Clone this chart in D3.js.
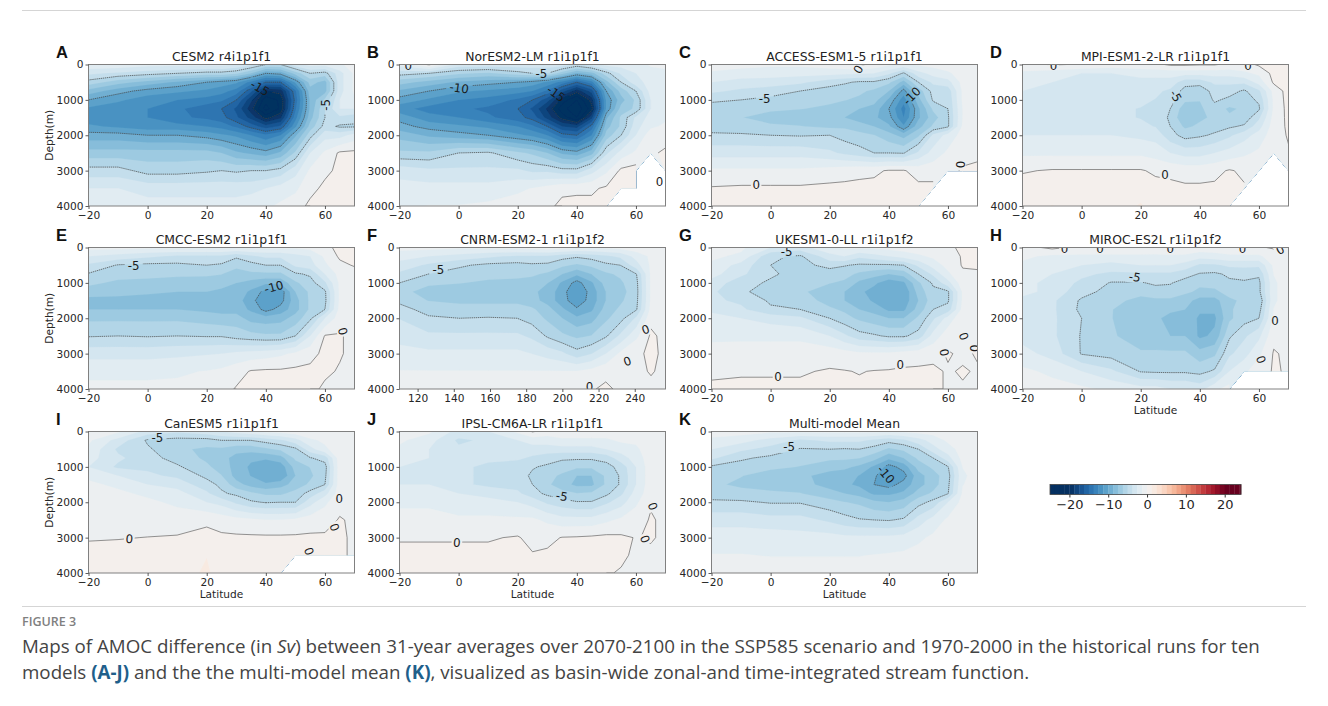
<!DOCTYPE html>
<html><head><meta charset="utf-8">
<script src="https://cdn.jsdelivr.net/npm/d3@7"></script>
<style>
html,body{margin:0;padding:0;background:#fff}
svg{display:block}
</style></head><body>
<svg id="fig" width="1328" height="706"></svg>
<script>
const lats=[-20,-10,0,10,20,25,30,35,40,45,50,55,60,65,70];
const lonsF=[110,126,143,159,175,183,192,200,208,216,224,232,241,249,257];
const depths=[0,250,500,750,1000,1250,1500,1750,2000,2500,3000,3500,4000];
const latTicks=[-20,0,20,40,60];
const lonTicks=[120,140,160,180,200,220,240];
const depthTicks=[0,1000,2000,3000,4000];
const barTicks=[-20,-10,0,10,20];
const lineLevels=[-20,-15,-10,-5,0];
const titles=["CESM2 r4i1p1f1","NorESM2-LM r1i1p1f1","ACCESS-ESM1-5 r1i1p1f1","MPI-ESM1-2-LR r1i1p1f1","CMCC-ESM2 r1i1p1f1","CNRM-ESM2-1 r1i1p1f2","UKESM1-0-LL r1i1p1f2","MIROC-ES2L r1i1p1f2","CanESM5 r1i1p1f1","IPSL-CM6A-LR r1i1p1f1","Multi-model Mean"];
const letters=["A","B","C","D","E","F","G","H","I","J","K"];

const cesm2=[
[-1.5,-1.5,-2,-2,-2,-2,-2.5,-3.5,-5,-5,-3,-2,-2,-1.5,-0.5],
[-3.5,-4,-4.5,-5,-5.5,-5.5,-6,-7.5,-10,-9.5,-7,-5,-5.5,-3,-1],
[-5.5,-7,-8,-9,-10,-10.5,-11,-13,-15,-15,-11,-7,-8,-3,-1],
[-8,-9.5,-10.5,-11,-11.5,-12,-13,-16,-20,-19.5,-14,-8,-8,-3,-1],
[-10,-11,-12,-12.5,-13,-13.5,-15,-18.5,-22,-21,-14.5,-8.5,-6,-2.5,-1.5],
[-11.5,-12,-12.5,-13.5,-14.5,-15,-16.5,-19.5,-23,-21,-14,-8.5,-5,-2.5,-2.5],
[-12,-12,-12.5,-13.5,-14,-14.5,-16,-18,-20.5,-19,-13,-8,-5,-4,-4.5],
[-11,-11.5,-12,-12,-12.5,-13,-14,-15.5,-17,-16,-11.5,-7,-4.5,-5.2,-5.2],
[-9.5,-9.5,-10,-10,-10.5,-11,-11.5,-12.5,-13.5,-12.5,-9,-5.5,-3,-3,-2],
[-7,-7,-7,-7,-7,-7.5,-8.5,-9,-9.5,-8.5,-6,-2.5,-1,0.2,0.3],
[-4.5,-4.5,-5.5,-5.5,-5.2,-5,-5.2,-5,-5,-4.5,-3,-1,-0.3,0.3,0.3],
[-2.5,-2.5,-3,-3,-3,-3,-3,-3,-2.5,-2,-1.5,-0.4,0.3,0.3,0.3],
[-1.5,-1.5,-2,-2,-2,-2,-2,-1.5,-1.5,-1,-0.6,0.3,0.3,0.3,0.3]];
const noresm=[
[-2,0.2,-3,-3,-3,-3,-3,-3,-4,-3,-2,-2,-2,-1,-1],
[-4.5,-5,-6,-6.5,-5.5,-5,-5,-7,-9,-8,-5.5,-3.5,-2.5,-2,-1.5],
[-7,-8,-9,-9.5,-10,-10.5,-11.5,-13,-15,-13,-8,-5,-3,-2,-1.5],
[-9,-10,-11,-11.5,-12,-12.5,-14,-17,-19.5,-17,-10,-7,-5,-2,-1.5],
[-10.5,-11.5,-12.5,-13,-14,-15,-17,-20.5,-22.5,-19.5,-11,-8,-6,-2.5,-1.5],
[-12,-13,-13.5,-14,-15,-16.5,-19,-22,-23.5,-20.5,-11,-7,-6,-2.5,-1.5],
[-10.5,-12,-12.5,-13.5,-14.5,-15.5,-18,-20.5,-22.5,-18,-9,-6,-3.5,-2,-1.5],
[-9.5,-10.5,-11,-11.5,-12.5,-13.5,-15,-17.5,-18,-14.5,-8,-6,-3,-1.5,-1],
[-8,-9,-9.5,-10,-11,-11.5,-12.5,-14.5,-15,-12.5,-7,-5,-2.5,-0.5,-0.5],
[-6,-6,-5,-4.8,-6,-6.5,-7.5,-9,-9.5,-8,-4,-2,-1,-0.2,0.2],
[-3,-3.5,-3.5,-3.5,-3.5,-4,-4,-4.5,-4.5,-3,-1.5,0.3,0.5,null,0.3],
[-2,-2,-2,-2,-1.5,-1.2,-0.8,-0.2,-0.2,-0.2,0.2,0.4,0.4,null,null],
[-1.5,-1.2,-1.2,-1,-0.7,-0.5,-0.2,0.2,0.3,0.3,0.4,null,null,null,null]];
const access=[
[-0.5,-0.8,-1,-1,-0.6,-0.3,0.2,-0.3,-1,-1.5,-1,-0.8,-0.5,-0.3,-0.3],
[-1.5,-1.8,-2,-2,-2,-2.2,-2.3,-2.5,-3.5,-5.2,-3,-2,-1.5,-0.5,-0.3],
[-2.5,-3,-3,-3.5,-4.5,-4.8,-5.2,-5.2,-6,-8,-5,-3.5,-3,-0.8,-0.5],
[-3.5,-4,-4.5,-5,-5.5,-5.8,-6,-6.5,-7.5,-10.5,-7,-4.5,-4.5,-1,-0.5],
[-4.8,-5,-5.3,-5.6,-6,-6.2,-6.5,-7,-9,-12,-8,-4.8,-4.8,-1,-0.5],
[-5.5,-6,-6,-6.2,-6.5,-7,-7.5,-8,-10,-13,-9,-6,-5,-1.2,-0.5],
[-6,-6.2,-6.8,-7,-7,-7.5,-8,-8.5,-9.5,-12.5,-9,-6.8,-5.2,-1.2,-0.5],
[-5.5,-5.8,-6,-6.2,-6.5,-6.5,-7,-7.5,-8.5,-11,-8,-6,-5.2,-1,-0.5],
[-4.8,-4.8,-5,-5.1,-5,-5.5,-5.8,-6.2,-7,-8,-6.5,-3.5,-2,-0.8,-0.3],
[-3,-3,-3,-3,-3.5,-4,-4.5,-5,-5,-5.1,-3.5,-2,-1,-0.3,-0.1],
[-1,-1,-1,-1,-0.7,-0.5,-0.3,-0.2,0.1,0.1,-0.5,-0.5,-0.3,0.1,0.1],
[0.1,0.2,0.2,0.2,0.3,0.3,0.3,0.3,0.3,0.3,0.3,0.3,null,null,null],
[0.3,0.3,0.3,0.3,0.3,0.3,0.3,0.3,0.3,0.3,0.3,null,null,null,null]];
const mpi=[
[-0.5,0.1,-0.1,-0.5,-0.5,-0.3,0.2,0.2,0.1,0.1,-0.3,-0.5,0.2,0.6,0.8],
[-1.5,-2,-2.5,-2.5,-2,-2,-2,-2,-2,-2,-2,-1.5,-1,0.4,0.8],
[-2,-2.5,-3,-3.5,-3,-3,-3,-4.5,-4.5,-3.5,-3.5,-3.5,-2,0.2,0.8],
[-2.5,-2.8,-3,-3.5,-3,-3.5,-4,-5.5,-5.8,-4.5,-4.5,-5.2,-4,-0.8,0.5],
[-3,-3,-3,-3.5,-3.5,-3.8,-4.5,-6,-6.2,-4.8,-5.3,-5.5,-4.8,-1,0.5],
[-3.5,-3.5,-3.5,-3.5,-3.8,-4,-5,-7,-6.5,-5.5,-6.5,-6,-5.2,-1,0.4],
[-3.5,-3.5,-3.5,-3.5,-3.8,-4.2,-5.2,-7.5,-6.5,-6,-6,-5.8,-4,-0.8,0.3],
[-3,-3,-3,-3.5,-3.5,-3.8,-5,-6.5,-6,-5.5,-5.2,-4.8,-3,-0.6,0.2],
[-2.5,-2.5,-2.5,-2.5,-2.8,-3,-4.5,-5.5,-5.2,-4.8,-4,-3,-2,-0.5,0.1],
[-1.5,-1.5,-1.5,-1.5,-1.5,-1.8,-2.5,-3,-3,-2.5,-2,-1.5,-1,-0.4,-0.1],
[-0.1,0.1,0.1,0.1,0.1,-0.2,-0.3,-0.5,-0.5,-0.3,0.1,-0.2,-0.3,null,-0.4],
[0.5,0.4,0.4,0.4,0.5,0.4,0.3,0.2,0.2,0.2,0.3,0.1,null,null,null],
[0.4,1.3,0.4,0.4,1.4,0.6,0.4,0.3,0.3,0.3,0.3,null,null,null,null]];
const cmcc=[
[-0.8,-0.8,-1,-1,-1,-1,-1,-1,-1,-1,-1,-0.8,-0.3,0.3,0.3],
[-2.5,-3,-3.5,-4,-4,-4,-4.8,-4,-3.5,-3.5,-3,-2.5,-1,0.2,0.2],
[-4,-5.1,-5.3,-5.3,-5,-5.2,-5.8,-5.5,-5,-5,-3.5,-3,-1.5,-0.3,0.1],
[-5.1,-5.8,-6,-6,-6,-6.2,-7,-6.5,-6.5,-6.5,-5.2,-4.8,-2.5,-0.8,-0.5],
[-6,-6.5,-6.5,-6.8,-7,-7,-7.5,-8,-8.5,-8.5,-6.5,-5.5,-4,-1,-0.5],
[-6.8,-7,-7.2,-7.5,-7.5,-7.8,-8,-9,-10.5,-10.8,-7.5,-6,-5.2,-1,-0.5],
[-8,-8,-8.2,-8.2,-8.2,-8.2,-8.2,-9.5,-11.2,-10.5,-8,-6,-5.3,-1,-0.5],
[-7.5,-7.5,-7.5,-7.5,-7.8,-8,-8,-9,-10.5,-9.5,-8,-6,-5,-0.8,-0.5],
[-6.5,-6.5,-6.5,-6.5,-6.8,-7,-7,-8,-8.2,-8,-7,-5.3,-2.5,-0.6,-0.4],
[-5.1,-5,-5.1,-5,-5.1,-5.1,-5.5,-5.8,-6,-6,-5,-2.5,0.1,0.1,-0.3],
[-3,-3,-3,-2.8,-2.6,-2.5,-2.2,-2,-1.8,-1.5,-1,-0.4,0.3,0.1,-0.3],
[-1.5,-1.5,-1.5,-1.4,-1.2,-1,-0.5,0.1,0.2,0.2,0.3,0.3,0.2,-0.1,-0.3],
[-1,-1,-1,-1,-0.8,-0.5,0.1,0.3,0.3,0.3,0.3,0.3,-0.2,-0.3,-0.3]];
const cnrm=[
[-0.8,-0.8,-1,-1,-0.8,-0.7,-0.5,-0.7,-1,-1,-1,-0.8,-0.5,-0.4,-0.4],
[-2,-2.5,-3,-3.5,-4,-4,-4,-4.5,-4.8,-4.5,-4,-3.5,-2,-1,-0.5],
[-3,-4,-4.8,-5.3,-5.4,-5.2,-5.3,-6,-6.5,-6,-5.3,-5,-3,-1,-0.5],
[-4,-5,-5.5,-5.8,-6,-6,-6.5,-7.5,-8.5,-7.5,-6.5,-6,-5,-1,-0.5],
[-5,-6,-6.2,-6.5,-6.5,-6.8,-7.5,-9,-10.5,-9,-7,-6.5,-5.3,-1,-0.5],
[-5.8,-6.8,-7,-7,-7,-7.2,-8,-9.5,-11.2,-9.5,-7.5,-6.8,-5.4,-1,-0.5],
[-5.3,-6.3,-6.5,-6.5,-6.5,-7,-8,-9.5,-10.8,-9.5,-7.5,-6.5,-5.3,-1,-0.5],
[-4.5,-5.5,-5.8,-5.8,-5.8,-6,-7,-8.5,-9.8,-9,-7,-6,-5.1,-0.8,-0.4],
[-3.8,-4.8,-5,-4.9,-5,-5.5,-6.5,-7.5,-8.5,-8,-6.5,-5.5,-3.5,-0.3,-0.3],
[-3,-3.5,-3.5,-3.5,-3.5,-4,-5.2,-6,-6.5,-6.2,-5.2,-3.5,-1.5,0.2,-0.3],
[-2,-2.2,-2.2,-2.2,-2.2,-2.5,-3,-3.5,-4.5,-3.8,-2.5,-1,-0.2,0.2,-0.2],
[-1.2,-1.2,-1.2,-1.2,-1.2,-1.2,-1.2,-1.2,-1.2,-0.8,-0.3,-0.1,-0.3,0.1,-0.3],
[-0.8,-0.8,-0.8,-0.8,-0.8,-0.8,-0.8,-0.8,-0.6,-0.1,0.2,-0.2,-0.3,-0.3,-0.3]];
const ukesm=[
[-0.5,-1,-2.5,-3,-1.5,-1,-1,-1,-0.8,-0.6,-0.5,-0.4,-0.2,0.2,0.2],
[-1,-1.5,-4.8,-5.2,-3,-2.5,-3.5,-3,-2.5,-2,-1.5,-1,-0.5,0.1,0.2],
[-1.5,-3,-5,-5.5,-4.5,-4.9,-5.2,-5.2,-5.2,-5,-3.5,-2,-0.8,0.1,0.1],
[-2,-3.5,-4.8,-5.5,-5.8,-5.8,-6.5,-7,-7.5,-7,-5,-3.5,-1.5,-0.2,-0.1],
[-3,-4.5,-5.2,-5.8,-6.2,-6.5,-7.8,-8.5,-9.5,-9,-6.5,-4.8,-3,-0.5,-0.5],
[-3.5,-4.8,-5.5,-6,-7,-7.5,-8.5,-9.2,-9.5,-9.8,-7,-5.3,-5.2,-1,-0.5],
[-3.5,-4,-5.2,-5.5,-6.8,-7.5,-8,-9,-9.5,-9.5,-7.5,-5.5,-5.2,-1,-0.5],
[-2.8,-3.5,-4.8,-5,-6,-6.5,-7.5,-8,-9,-9,-7,-5,-4.5,-0.8,-0.5],
[-2,-2.5,-3,-3.5,-5,-5.8,-6.5,-7,-7.5,-7.5,-6,-4,-2,-0.3,-0.2],
[-1.5,-1.5,-1.5,-1.5,-2.5,-3.5,-4.5,-4.8,-5.2,-5.2,-4.5,-2,-0.5,-0.2,-0.1],
[-0.8,-0.7,-0.7,-0.7,-0.5,-0.7,-1,-1,-1,-0.7,-0.5,-0.3,0.1,-0.2,0.1],
[-0.2,-0.1,-0.1,-0.1,0.1,0.05,-0.05,0.05,0.1,0.2,0.2,0.2,-0.1,0.1,-0.1],
[0.2,0.2,0.2,0.2,0.2,0.2,0.2,0.2,0.2,0.2,0.2,0.2,-0.1,-0.1,-0.1]];
const miroc=[
[-0.5,0.3,-0.3,-0.3,-0.3,-0.5,0.2,-0.3,-0.5,-0.4,-0.3,-0.2,-0.1,0.1,-0.2],
[-1,-1.5,-1.5,-1.5,-1.5,-1.5,-1.5,-1.5,-2,-1.8,-1.5,-1.5,-1.5,-0.5,-0.3],
[-1.5,-2,-2.5,-3,-2.5,-2.5,-2.5,-3,-4,-4,-3.5,-3.5,-3.5,-1,-0.5],
[-2,-2.5,-3.5,-4,-4,-4,-4,-4.5,-5.1,-5.2,-4.8,-4.5,-4.8,-1.2,-0.5],
[-2,-3,-4,-5.1,-5.1,-4.8,-4.9,-5.5,-6,-5.8,-5.2,-5.2,-5.3,-1.5,-0.5],
[-2,-3,-4.5,-5.5,-6,-5.5,-5.5,-6,-6.5,-6.5,-5.8,-5.5,-5.3,-1.5,-0.5],
[-3,-3.5,-5.2,-6,-6.5,-6.5,-6.5,-7,-8,-8,-6.5,-6,-6,-1.5,-0.5],
[-3.5,-3.5,-5.3,-6.2,-7,-7,-7.2,-7.5,-8.5,-8.5,-6.5,-5.5,-5.5,-1.2,-0.3],
[-3.5,-3.5,-5,-6.2,-7.2,-7.2,-8,-7.8,-9,-9,-6.5,-5.5,-5,-1,-0.3],
[-3,-3.5,-5.1,-6,-7.2,-7.2,-7.5,-7.5,-9,-8.5,-5.2,-4,-2.8,-0.3,-0.2],
[-2,-3,-5.1,-5.5,-6,-6,-6,-6,-7,-6.5,-4,-3,-1.5,0.1,-0.2],
[-1,-1.5,-2.5,-3.5,-5.1,-5.2,-5.2,-5.2,-5.4,-4.8,-2.5,-1.5,-0.5,0.1,-0.1],
[-0.5,-0.8,-1,-1.5,-2,-2,-2.5,-2.5,-3,-1.5,-0.8,null,null,null,null]];
const canesm=[
[-0.5,-1,-3,-3.5,-3,-2.5,-2,-1.5,-1,-0.8,-0.5,-0.3,-0.2,-0.2,-0.2],
[-1,-3,-5.2,-5.5,-5.5,-5,-5,-5,-4.5,-4,-3,-1.5,-1,-0.3,-0.2],
[-1.5,-4,-4.8,-6,-6.5,-6.5,-7,-7,-6.5,-6,-5.3,-3,-1.5,-0.5,-0.3],
[-2,-3.5,-4.5,-5.5,-6.5,-7,-8,-8.5,-8.5,-8,-6,-5.1,-4.5,-0.5,-0.3],
[-2.5,-4,-4,-4.8,-6,-6.8,-8,-9,-10,-9.5,-7,-6.2,-5.5,-0.5,-0.3],
[-1.5,-2.5,-3.5,-4,-5.3,-6.2,-8,-8.8,-10,-9.8,-7.5,-6.5,-5.3,-0.5,-0.3],
[-1,-1.5,-2.5,-3,-4.5,-5.3,-7,-8,-8.5,-8,-7,-6,-5,-0.5,-0.3],
[-1,-1,-1.5,-2,-3.5,-4.8,-5.3,-6,-6.5,-6.5,-5.8,-4.5,-3,-0.5,-0.3],
[-0.8,-0.8,-1,-1.5,-2.5,-3,-4,-4.8,-5.1,-5,-5,-3,-1.5,-0.4,-0.3],
[-0.4,-0.4,-0.5,-0.6,-0.2,-0.5,-0.8,-1,-1.2,-1.2,-1,-0.6,-0.5,0.1,-0.2],
[-0.1,-0.05,0.02,0.1,0.3,0.2,0.2,0.2,0.2,0.2,0.2,0.2,0.2,0.2,-0.2],
[0.4,0.4,0.4,0.4,1.2,0.4,0.4,0.4,0.4,0.4,0.4,0.1,0.2,0.2,-0.2],
[0.5,0.5,0.5,0.5,1.5,0.5,0.5,0.5,0.5,0.3,null,null,null,null,null]];
const ipsl=[
[-0.5,-1,-3,-2.5,-1,0.1,-0.5,-0.5,-0.5,-0.5,-0.5,-0.5,-0.3,-0.2,-0.2],
[-1,-2,-4,-3.5,-2.5,-2,-2,-1.5,-1.5,-1.5,-1.5,-1,-1,-0.3,-0.3],
[-1.5,-2.5,-3.5,-3.5,-3,-3,-3,-3,-3,-3,-2.5,-2,-1.5,-0.5,-0.3],
[-2,-2.5,-3,-3.5,-3.5,-4,-4.5,-4.8,-4.8,-4.8,-4.5,-3,-2,-0.5,-0.3],
[-2.5,-3,-3.5,-4,-4.5,-4.9,-5.2,-5.6,-6,-6,-5.5,-4.5,-2.5,-0.5,-0.3],
[-3,-3,-3.5,-4,-4.5,-5.2,-5.8,-6.5,-7.5,-7.5,-6,-4.8,-2.5,-0.5,-0.3],
[-2.5,-2.5,-3.5,-4,-4.2,-5,-6,-7,-7.8,-7.8,-6,-4.8,-2.5,-0.5,-0.3],
[-2,-2,-2.5,-3,-3.5,-4.5,-5.3,-5.8,-6.2,-6,-5.3,-4,-2,-0.5,-0.3],
[-1.5,-1.5,-2,-2,-2.5,-3,-4,-4.5,-4.9,-4.9,-4,-3,-1.5,-0.1,-0.3],
[-0.8,-0.8,-1,-1,-1,-1,-1.5,-2,-2,-2,-1.5,-1,-0.5,0.1,-0.2],
[-0.1,-0.1,-0.1,-0.1,0.1,-0.4,-0.3,0.05,0.1,0.2,0.3,0.2,-0.05,0.1,-0.2],
[0.3,0.3,0.3,0.3,0.5,0.1,0.2,0.3,0.3,0.3,0.3,0.2,-0.2,-0.2,-0.3],
[0.4,0.4,0.4,0.4,1.3,0.4,0.4,0.4,0.4,0.4,0.1,-0.1,-0.3,-0.3,-0.3]];
const mmm=[
[-0.7,-0.7,-1,-1,-1,-1,-1,-1,-1.2,-1,-0.8,-0.7,-0.5,-0.5,-0.5],
[-1.5,-2,-3,-4,-3.5,-3.5,-3.5,-4,-4.5,-4,-3,-2,-1,-0.6,-0.5],
[-2.5,-3.5,-4.2,-5.1,-5,-5.1,-5,-5.5,-6.5,-6,-5,-3,-1.8,-0.7,-0.5],
[-3.5,-4.8,-5.3,-5.8,-6,-6,-6.2,-7,-8.5,-7.5,-6,-5,-3,-0.8,-0.5],
[-5.2,-5.5,-6,-6.3,-7,-7.2,-7.8,-9,-10.5,-9.5,-7,-6,-5.1,-1.2,-0.7],
[-5.8,-6.2,-6.8,-7.2,-8,-8.2,-8.8,-9.8,-11,-10.5,-8,-6.8,-5.5,-1.5,-0.7],
[-6,-6.5,-6.8,-7,-8,-8.5,-9,-10,-10.5,-9.5,-8,-6.8,-5.3,-1.3,-0.7],
[-5.5,-5.8,-6,-6.2,-7,-7.5,-8,-9,-9,-8.5,-7,-6,-5.1,-1,-0.7],
[-4.8,-4.8,-5.1,-5.1,-5.8,-6.2,-6.5,-7.2,-7.5,-7,-5.5,-4.6,-2.5,-0.8,-0.7],
[-3,-3,-3.3,-3.3,-4,-4.5,-4.9,-5,-5.1,-4.8,-3.2,-2,-1,-0.4,-0.4],
[-1.8,-1.8,-1.8,-2,-2,-2.2,-2.2,-2.2,-2.2,-2,-1.5,-1,-0.6,-0.3,-0.3],
[-1.2,-1.2,-1.3,-1.3,-1.3,-1.3,-1.3,-1.2,-1.1,-1,-0.8,-0.5,-0.4,-0.3,-0.3],
[-0.6,-0.6,-0.6,-0.6,-0.6,-0.6,-0.6,-0.6,-0.6,-0.6,-0.6,-0.5,-0.4,-0.3,-0.3]];
const panelGrids=[cesm2,noresm,access,mpi,cmcc,cnrm,ukesm,miroc,canesm,ipsl,mmm];

// inline contour labels: [x value, depth, text, angle]
const contourLabels=[
[[38,670,"-15",30],[60.3,1140,"-5",-90]],
[[0.2,670,"-10",8],[28,260,"-5",0],[32.9,830,"-15",35],[68,3320,"0",0],[-17,50,"0",0]],
[[-2,970,"-5",0],[47.8,890,"-10",-45],[-4.9,3415,"0",0],[29.7,140,"0",-60],[64,2830,"0",90]],
[[31.8,890,"-5",60],[28.2,3130,"0",0],[-9.5,40,"0",0],[56.3,30,"0",0]],
[[-4.7,536,"-5",0],[42.7,1120,"-10",-15],[66,2370,"0",75]],
[[131.5,650,"-5",0],[246,2325,"0",-20],[236,3220,"0",-20],[215,3940,"0",0]],
[[5.4,130,"-5",0],[2.5,3660,"0",0],[43.9,3330,"0",0],[65.3,2510,"0",70],[58.7,2965,"0",80],[68.9,2850,"0",90]],
[[18,840,"-5",10],[65.4,2070,"0",0],[60.6,3170,"0",70],[-5.8,30,"0",0],[6.2,30,"0",0],[30,30,"0",0],[54.4,30,"0",0],[67.2,70,"0",-30]],
[[3.3,190,"-5",0],[-6.2,3040,"0",5],[64.8,1910,"0",0],[63.2,2710,"0",70],[54.5,3390,"0",70]],
[[34.9,1835,"-5",10],[-0.6,3150,"0",5],[65.6,2120,"0",70],[63,3040,"0",70]],
[[6.3,440,"-5",0],[39,1220,"-10",50]]
];

const captionA="Maps of AMOC difference (in ", captionSv="Sv", captionB=") between 31-year averages over 2070-2100 in the SSP585 scenario and 1970-2000 in the historical runs for ten";
const captionC="models ", captionAJ="(A-J)", captionD=" and the the multi-model mean ", captionK="(K)", captionE=", visualized as basin-wide zonal-and time-integrated stream function.";

const panelLefts=[88.5,399.5,711.5,1022.5];
const panelTops=[64.5,247.5,431.5];
const PW=266, PH=141.5;

const svg=d3.select("#fig");
const defs=svg.append("defs");
defs.append("filter").attr("id","soft").attr("x","-5%").attr("y","-5%").attr("width","110%").attr("height","110%")
  .append("feGaussianBlur").attr("stdDeviation",0.55);

const levelStep=1.25;
const levels=d3.range(-25,25+1e-6,levelStep);
const colorOf=v=>d3.interpolateRdBu(1-Math.max(0,Math.min(1,(v+20)/40)));
const bandColor=t=>colorOf(t+levelStep*(t<0?0.25:0.3));

panelGrids.forEach((grid,k)=>{
  const row=Math.floor(k/4);
  const c=k<8?k%4:k-8, r=row;
  const x0=panelLefts[c], y0=panelTops[r];
  const isF=k===5;
  const cols=isF?lonsF:lats;
  const xDomain=isF?[110,257]:[-20,70];
  const x=d3.scaleLinear().domain(xDomain).range([x0,x0+PW]);
  const y=d3.scaleLinear().domain([0,4000]).range([y0,y0+PH]);
  const nx=cols.length, ny=depths.length;
  const xi=d3.scaleLinear().domain(d3.range(nx)).range(cols).clamp(true);
  const yi=d3.scaleLinear().domain(d3.range(ny)).range(depths).clamp(true);
  const flat=grid.flat().map(v=>v===null?NaN:v);
  const gen=d3.contours().size([nx,ny]).smooth(true);
  const px=p=>[x(xi(p[0]-0.5)),y(yi(p[1]-0.5))];

  const clipId="clip"+k;
  defs.append("clipPath").attr("id",clipId).append("rect").attr("x",x0).attr("y",y0).attr("width",PW).attr("height",PH);

  const g=svg.append("g");
  const clipped=g.append("g").attr("clip-path",`url(#${clipId})`);
  const fills=clipped.append("g").attr("filter","url(#soft)");
  levels.slice(0,-1).forEach(t=>{
    const cc=gen.contour(flat,t);
    const dStr=cc.coordinates.map(poly=>poly.map(ring=>"M"+ring.map(p=>px(p).map(n=>n.toFixed(2)).join(",")).join("L")+"Z").join("")).join("");
    if(dStr) fills.append("path").attr("d",dStr).attr("fill-rule","evenodd")
      .attr("fill",bandColor(t)).attr("stroke",bandColor(t)).attr("stroke-width",0.2);
  });

  // contour lines, with gaps where labels sit
  const labs=contourLabels[k];
  let holes=`M${x0},${y0}H${x0+PW}V${y0+PH}H${x0}Z`;
  labs.forEach(l=>{
    const w=l[2].length*3.8+1.5,h=6,a=l[3]*Math.PI/180,cx=x(l[0]),cy=y(l[1]);
    const pts=[[-w,-h],[w,-h],[w,h],[-w,h]].map(([u,v])=>[cx+u*Math.cos(a)-v*Math.sin(a),cy+u*Math.sin(a)+v*Math.cos(a)]);
    holes+="M"+pts.map(p=>p.join(",")).join("L")+"Z";
  });
  const gapId="gap"+k;
  defs.append("clipPath").attr("id",gapId).append("path").attr("d",holes).attr("clip-rule","evenodd");
  const lines=clipped.append("g").attr("clip-path",`url(#${gapId})`);
  const onEdge=p=>p[0]<=0||p[0]>=nx||p[1]<=0||p[1]>=ny;
  const hasNull=p=>{
    const gx=p[0]-0.5,gy=p[1]-0.5;
    for(let i=Math.ceil(gx-1.01);i<=Math.floor(gx+1.01);i++)for(let j=Math.ceil(gy-1.01);j<=Math.floor(gy+1.01);j++){
      if(i>=0&&i<nx&&j>=0&&j<ny&&grid[j][i]===null)return true;
    }
    return false;
  };
  lineLevels.forEach(t=>{
    const cc=gen.contour(flat,t);
    let dStr="";
    cc.coordinates.forEach(poly=>poly.forEach(ring=>{
      let pen=false;
      for(let i=0;i<ring.length-1;i++){
        const a=ring[i],b=ring[i+1];
        if((onEdge(a)&&onEdge(b))||(hasNull(a)&&hasNull(b))){pen=false;continue;}
        const pa=px(a),pb=px(b);
        if(!pen)dStr+=`M${pa[0].toFixed(2)},${pa[1].toFixed(2)}`;
        dStr+=`L${pb[0].toFixed(2)},${pb[1].toFixed(2)}`;
        pen=true;
      }
    }));
    if(dStr)lines.append("path").attr("d",dStr).attr("fill","none")
      .attr("stroke",t===0?"#666":"#444").attr("stroke-width",0.7)
      .attr("stroke-dasharray",t<0?"1.4,0.7":null);
  });

  // inline labels are cut at the panel edge, as in the reference
  labs.forEach(l=>{
    clipped.append("text").attr("transform",`translate(${x(l[0])},${y(l[1])}) rotate(${l[3]})`)
      .attr("text-anchor","middle").attr("dominant-baseline","central")
      .attr("font-family","DejaVu Sans").attr("font-size",11.8).attr("fill","#1a1a1a").text(l[2]);
  });

  // frame
  g.append("rect").attr("x",x0).attr("y",y0).attr("width",PW).attr("height",PH)
    .attr("fill","none").attr("stroke","#808080").attr("stroke-width",1);

  // axes
  const ax=g.append("g").attr("transform",`translate(0,${y0+PH})`)
    .call(d3.axisBottom(x).tickValues(isF?lonTicks:latTicks).tickSize(3).tickPadding(2));
  const ay=g.append("g").attr("transform",`translate(${x0},0)`)
    .call(d3.axisLeft(y).tickValues(depthTicks).tickFormat(d3.format("d")).tickSize(3).tickPadding(2));
  [ax,ay].forEach(a=>{
    a.select(".domain").remove();
    a.selectAll("text").attr("font-family","DejaVu Sans").attr("font-size",10.6).attr("fill","#262626");
    a.selectAll("line").attr("stroke","#333").attr("stroke-width",0.8);
  });

  g.append("text").attr("x",x0+PW/2).attr("y",y0-4).attr("text-anchor","middle")
    .attr("font-family","DejaVu Sans").attr("font-size",12.4).attr("fill","#222").text(titles[k]);

  g.append("text").attr("x",x0-32.5).attr("y",y0-7).attr("font-family","Liberation Sans").attr("font-weight","bold")
    .attr("font-size",16.5).attr("fill","#111").text(letters[k]);

  if(c===0){
    g.append("text").attr("transform",`translate(${x0-36},${y0+PH/2}) rotate(-90)`).attr("text-anchor","middle")
      .attr("font-family","DejaVu Sans").attr("font-size",10.6).attr("fill","#262626").text("Depth(m)");
  }
  if(k>=7){
    g.append("text").attr("x",x0+PW/2).attr("y",y0+PH+25).attr("text-anchor","middle")
      .attr("font-family","DejaVu Sans").attr("font-size",10.6).attr("fill","#262626").text("Latitude");
  }
});

// colour bar
const barX=d3.scaleLinear().domain([-25,24.2]).range([1050,1241]);
const barG=svg.append("g");
levels.slice(0,-1).forEach(t=>{
  const a=barX(t), b=Math.min(barX(t+levelStep),1241);
  if(a<1241) barG.append("rect").attr("x",a).attr("y",484.5).attr("width",b-a+0.3).attr("height",10).attr("fill",bandColor(t));
});
barG.append("rect").attr("x",1050).attr("y",484.5).attr("width",191).attr("height",10).attr("fill","none").attr("stroke","#444").attr("stroke-width",0.8);
const barAxis=barG.append("g").attr("transform","translate(0,494.5)").call(d3.axisBottom(barX).tickValues(barTicks).tickSize(3).tickPadding(2));
barAxis.select(".domain").remove();
barAxis.selectAll("text").attr("font-family","DejaVu Sans").attr("font-size",13).attr("fill","#262626");
barAxis.selectAll("line").attr("stroke","#333");

// page furniture
svg.append("line").attr("x1",22).attr("x2",1306).attr("y1",10.5).attr("y2",10.5).attr("stroke","#d5d5d5");
svg.append("line").attr("x1",22).attr("x2",1306).attr("y1",606.5).attr("y2",606.5).attr("stroke","#d5d5d5");
svg.append("text").attr("x",22).attr("y",626).attr("font-family","Open Sans").attr("font-size",12.5).attr("font-weight",600).attr("fill","#808080").text("FIGURE 3");
const cap1=svg.append("text").attr("x",22).attr("y",653).attr("font-family","Open Sans").attr("font-size",18.75).attr("fill","#444");
cap1.append("tspan").text(captionA);
cap1.append("tspan").attr("font-style","italic").text(captionSv);
cap1.append("tspan").text(captionB);
const cap2=svg.append("text").attr("x",22).attr("y",679).attr("font-family","Open Sans").attr("font-size",18.75).attr("fill","#444");
cap2.append("tspan").text(captionC);
cap2.append("tspan").attr("font-weight","bold").attr("fill","#1f5f8b").text(captionAJ);
cap2.append("tspan").text(captionD);
cap2.append("tspan").attr("font-weight","bold").attr("fill","#1f5f8b").text(captionK);
cap2.append("tspan").text(captionE);
</script>
</body></html>
